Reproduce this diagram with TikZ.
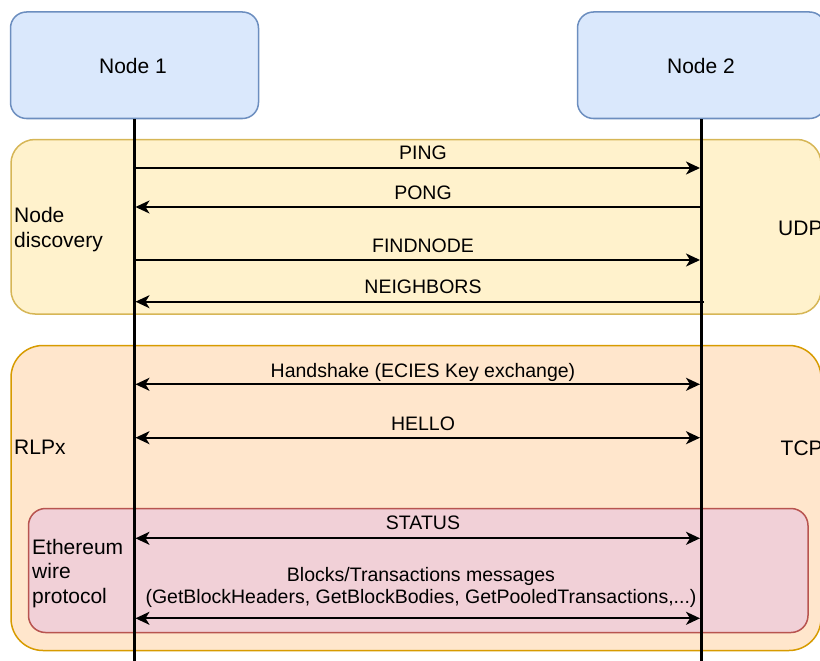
\documentclass[tikz,border=0pt]{standalone}
\usepackage{fontspec}
\setmainfont{Liberation Sans}
\usetikzlibrary{arrows.meta}
\definecolor{blfill}{HTML}{DAE8FC}
\definecolor{bldraw}{HTML}{6C8EBF}
\definecolor{udpfill}{HTML}{FFF2CC}
\definecolor{udpdraw}{HTML}{D6B656}
\definecolor{tcpfill}{HTML}{FFE6CC}
\definecolor{tcpdraw}{HTML}{D79B00}
\definecolor{ethfill}{HTML}{F1D0D7}
\definecolor{ethdraw}{HTML}{B85450}
\tikzset{
  peer/.style={draw=bldraw, fill=blfill, line width=1.5pt, rounded corners=16pt,
    minimum width=248pt, minimum height=106.5pt, inner sep=0pt,
    font=\fontsize{21}{24.5}\selectfont},
  layer/.style={line width=1.5pt, inner sep=0pt},
  life/.style={line width=3pt, black},
  msg/.style={line width=1.8pt, black},
  tip/.tip={Stealth[length=14pt, width=13pt, inset=4pt]},
  msglabel/.style={anchor=base, inner sep=0pt, font=\fontsize{19.5}{22}\selectfont},
  sidelabel/.style={anchor=base west, inner sep=0pt, font=\fontsize{21}{24.5}\selectfont},
}
\begin{document}
\begin{tikzpicture}[x=1pt,y=-1pt]
\useasboundingbox (0,0) rectangle (820,661);
% layer boxes
\node[layer, draw=udpdraw, fill=udpfill, rounded corners=24pt,
  minimum width=810pt, minimum height=174.5pt] (udp) at (416,226.75) {};
\node[layer, draw=tcpdraw, fill=tcpfill, rounded corners=32pt,
  minimum width=810pt, minimum height=305pt] (tcp) at (416,498) {};
\node[layer, draw=ethdraw, fill=ethfill, rounded corners=17pt,
  minimum width=779.5pt, minimum height=124pt] (eth) at (418.25,570.5) {};
% peers
\node[peer] (n1) at (134.5,65.25) {};
\node[peer] (n2) at (701.5,65.25) {};
\node[sidelabel, anchor=base] (n1t) at (133,74) {Node 1};
\node[sidelabel, anchor=base] (n2t) at (701,73.5) {Node 2};
% lifelines
\coordinate (l1) at (134,665);
\coordinate (l2) at (701.5,665);
\draw[life] (n1.south -| l1) -- (l1);
\draw[life] (n2.south -| l2) -- (l2);
% message end points
\foreach \i/\y in {1/168,2/207,3/260,4/301.7,5/384.3,6/437.7,7/538.3,8/618.3}{
  \coordinate (a\i) at (135.5,\y);
  \coordinate (b\i) at (700,\y);
  \coordinate (c\i) at (701.5,\y);
}
\coordinate (d4) at (704,301.7);
% messages
\draw[msg, -{tip}] (a1) -- (b1);
\draw[msg, -{tip}] (c2) -- (a2);
\draw[msg, -{tip}] (a3) -- (b3);
\draw[msg, -{tip}] (d4) -- (a4);
\draw[msg, {tip}-{tip}] (a5) -- (b5);
\draw[msg, {tip}-{tip}] (a6) -- (b6);
\draw[msg, {tip}-{tip}] (a7) -- (b7);
\draw[msg, {tip}-{tip}] (a8) -- (b8);
% message labels
\node[msglabel] (m1) at (423,159) {PING};
\node[msglabel] (m2) at (423,199) {PONG};
\node[msglabel] (m3) at (423,252) {FINDNODE};
\node[msglabel] (m4) at (423,293) {NEIGHBORS};
\node[msglabel] (m5) at (423,377.5) {Handshake (ECIES Key exchange)};
\node[msglabel] (m6) at (423,430) {HELLO};
\node[msglabel] (m7) at (423,529.5) {STATUS};
\node[msglabel] (m8) at (421,581) {\begin{tabular}[t]{@{}c@{}}Blocks/Transactions messages\\(GetBlockHeaders, GetBlockBodies, GetPooledTransactions,...)\end{tabular}};
% side labels
\node[sidelabel] (s1) at (14,222.5) {\begin{tabular}[t]{@{}l@{}}Node\\discovery\end{tabular}};
\node[sidelabel] (s2) at (778,235) {UDP};
\node[sidelabel] (s3) at (14,454.5) {RLPx};
\node[sidelabel] (s4) at (780.5,455) {TCP};
\node[sidelabel] (s5) at (32,554.3) {\begin{tabular}[t]{@{}l@{}}Ethereum\\wire\\protocol\end{tabular}};
\end{tikzpicture}
\end{document}
